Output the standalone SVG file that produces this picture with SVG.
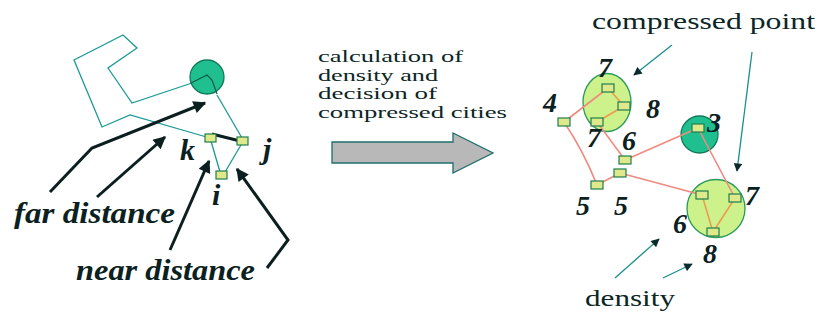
<svg xmlns="http://www.w3.org/2000/svg" width="819" height="322" viewBox="0 0 819 322">
<defs>
<style>
.bg{fill:#ffffff}
.teal{fill:none;stroke:#1a9a96;stroke-width:1.3}
.black{fill:none;stroke:#0b1f1f;stroke-width:3}
.red{fill:none;stroke:#f08a80;stroke-width:1.6}
.orange{fill:none;stroke:#ee9a50;stroke-width:1.6}
.node{fill:#dfe98c;stroke:#1e7e4e;stroke-width:1.2}
.lg{fill:#cdf28c;stroke:#2a9a5a;stroke-width:1.3}
.dg{fill:#1fbf8f;stroke:#127a5a;stroke-width:1.3}
.lab{font-weight:bold;font-style:italic;fill:#0b2020}
.txt{fill:#0b2626}
.tarrow{fill:none;stroke:#1a8f8c;stroke-width:1.3}
</style>
<marker id="ab" viewBox="0 0 10 10" refX="9" refY="5" markerWidth="5" markerHeight="4.2" orient="auto" markerUnits="strokeWidth">
<path d="M0,0 L10,5 L0,10 Z" fill="#0b1f1f"/>
</marker>
<marker id="at" viewBox="0 0 10 10" refX="9" refY="5" markerWidth="8" markerHeight="6.5" orient="auto" markerUnits="strokeWidth">
<path d="M0,0 L10,5 L0,10 Z" fill="#0b2a2a"/>
</marker>
</defs>
<rect class="bg" x="0" y="0" width="819" height="322"/>

<g id="connectors-left">
<polyline class="teal" points="210,138 130,115 102,127 74,60 123,35 137,48 108,68 132,103 192,83"/>
<line class="teal" x1="217" y1="95" x2="242" y2="138"/>
<line class="teal" x1="211" y1="141" x2="220" y2="172"/>
<line class="teal" x1="241" y1="145" x2="225" y2="172"/>
<line stroke="#0b1f1f" stroke-width="3" x1="212" y1="134" x2="240" y2="141"/>
<polyline class="black" points="50,192 92,148 205,103" marker-end="url(#ab)"/>
<line class="black" x1="97" y1="197" x2="165" y2="137" marker-end="url(#ab)"/>
<line class="black" x1="170" y1="250" x2="209" y2="161" marker-end="url(#ab)"/>
<polyline class="black" stroke-width="2" points="267,268 288,240 237,169" marker-end="url(#ab)"/>
</g>
<g id="circle-left"><circle class="dg" cx="207" cy="77" r="17"/>
<polyline fill="none" stroke="#0d5a4a" stroke-width="1.2" points="191,83 207,75 212,80 217,94"/></g>
<g id="node-k"><rect class="node" x="205" y="134" width="11" height="8"/></g>
<g id="node-j"><rect class="node" x="237" y="137" width="11" height="8"/></g>
<g id="node-i"><rect class="node" x="216" y="171" width="11" height="8"/></g>
<g font-family="Liberation Serif, serif">
<text class="lab" x="180" y="160" font-size="30">k</text>
<text class="lab" x="263" y="159" font-size="30">j</text>
<text class="lab" x="212" y="205" font-size="30">i</text>
<text class="lab" x="14" y="223" font-size="30" textLength="161" lengthAdjust="spacingAndGlyphs">far distance</text>
<text class="lab" x="76" y="280" font-size="30" textLength="179" lengthAdjust="spacingAndGlyphs">near distance</text>
</g>

<g id="label-middle" font-family="Liberation Serif, serif">
<text class="txt" font-size="16"><tspan x="318" y="62" textLength="145" lengthAdjust="spacingAndGlyphs">calculation of</tspan><tspan x="318" y="80.5" textLength="120" lengthAdjust="spacingAndGlyphs">density and</tspan><tspan x="318" y="99" textLength="119" lengthAdjust="spacingAndGlyphs">decision of</tspan><tspan x="318" y="117.5" textLength="189" lengthAdjust="spacingAndGlyphs">compressed cities</tspan></text>
</g>
<g id="big-arrow"><polygon points="332,142 453,142 453,133 493,153 453,173 453,163 332,163" fill="#b8b8b8" stroke="#1e6e6a" stroke-width="1.3"/></g>

<g id="circles-right">
<ellipse class="lg" cx="607" cy="102.5" rx="24" ry="29"/>
<circle class="dg" cx="699.5" cy="134.5" r="18.5"/>
<circle class="lg" cx="716" cy="208.5" r="29"/>
</g>
<g id="connectors-right">
<line class="red" x1="564" y1="122" x2="608" y2="88"/>
<line class="orange" x1="608" y1="88" x2="624" y2="106"/>
<line class="orange" x1="624" y1="106" x2="597" y2="122"/>
<path class="red" d="M564,122 Q583,150 597,185"/>
<line class="red" x1="597" y1="122" x2="625" y2="160"/>
<line class="red" x1="625" y1="160" x2="698" y2="128"/>
<line class="red" x1="597" y1="185" x2="620" y2="173"/>
<line class="red" x1="620" y1="173" x2="702" y2="195"/>
<line class="red" x1="698" y1="128" x2="735" y2="198"/>
<line class="orange" x1="702" y1="195" x2="713" y2="232"/>
<line class="orange" x1="735" y1="198" x2="713" y2="232"/>
<line class="tarrow" x1="672" y1="45" x2="634" y2="75" marker-end="url(#at)"/>
<line class="tarrow" x1="752" y1="52" x2="737" y2="171" marker-end="url(#at)"/>
<line class="tarrow" x1="615" y1="278" x2="659" y2="239" marker-end="url(#at)"/>
<line class="tarrow" x1="663" y1="278" x2="692" y2="264" marker-end="url(#at)"/>
</g>
<g id="nodes-right">
<rect class="node" x="602" y="84" width="12" height="8"/>
<rect class="node" x="618" y="102" width="12" height="8"/>
<rect class="node" x="591" y="118" width="12" height="8"/>
<rect class="node" x="558" y="118" width="12" height="8"/>
<rect class="node" x="692" y="124" width="12" height="8"/>
<rect class="node" x="619" y="156" width="12" height="8"/>
<rect class="node" x="614" y="169" width="12" height="8"/>
<rect class="node" x="591" y="181" width="12" height="8"/>
<rect class="node" x="696" y="191" width="12" height="8"/>
<rect class="node" x="729" y="194" width="12" height="8"/>
<rect class="node" x="707" y="228" width="12" height="8"/>
</g>
<g id="labels-right" text-anchor="middle" font-family="Liberation Serif, serif">
<text class="lab" x="605" y="77" font-size="28">7</text>
<text class="lab" x="550" y="112" font-size="28">4</text>
<text class="lab" x="653" y="118" font-size="28">8</text>
<text class="lab" x="594" y="147" font-size="28">7</text>
<text class="lab" x="629" y="150" font-size="28">6</text>
<text class="lab" x="714" y="132" font-size="28">3</text>
<text class="lab" x="583" y="215" font-size="28">5</text>
<text class="lab" x="621" y="215" font-size="28">5</text>
<text class="lab" x="680" y="233" font-size="28">6</text>
<text class="lab" x="752" y="205" font-size="28">7</text>
<text class="lab" x="710" y="263" font-size="28">8</text>
</g>
<g font-family="Liberation Serif, serif">
<text class="txt" x="592" y="29" font-size="24" textLength="223" lengthAdjust="spacingAndGlyphs">compressed point</text>
<text class="txt" x="585" y="306" font-size="24" textLength="90" lengthAdjust="spacingAndGlyphs">density</text>
</g>
</svg>
